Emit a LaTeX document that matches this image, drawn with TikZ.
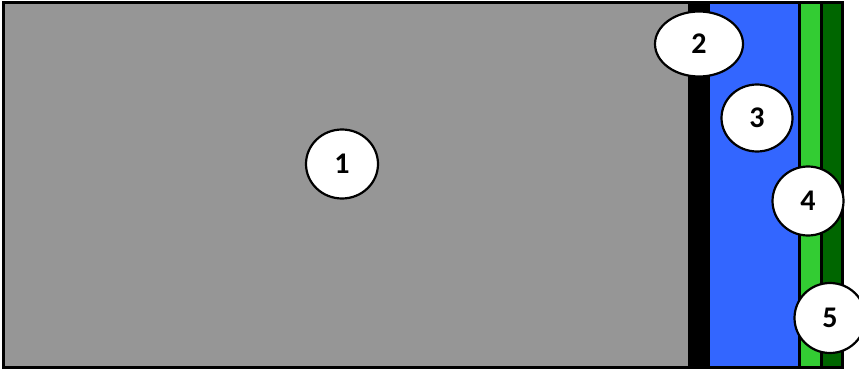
\documentclass[tikz,border=0pt]{standalone}
\usepackage{fontspec}
\setmainfont{Carlito}
\usetikzlibrary{positioning,shapes.geometric}
\definecolor{WallGray}{RGB}{150,150,150}
\definecolor{LayerBlue}{RGB}{51,102,255}
\definecolor{LightGreen}{RGB}{51,204,51}
\definecolor{DarkGreen}{RGB}{0,102,0}
\tikzset{
  frame/.style={draw=black,line width=3pt},
  lab/.style={ellipse,draw=black,fill=white,line width=2.2pt,inner sep=0pt,font=\fontsize{30}{30}\selectfont\bfseries},
}

\begin{document}
\begin{tikzpicture}[x=1pt,y=-1pt]
\useasboundingbox (0,0) rectangle (859,369);
\fill[WallGray] (3.5,2.5) rectangle (688,367);
\fill[black] (688,2.5) rectangle (710,367);
\fill[LayerBlue] (710,2.5) rectangle (799.5,367);
\fill[LightGreen] (799.5,2.5) rectangle (821.5,367);
\fill[DarkGreen] (821.5,2.5) rectangle (842,367);
\draw[frame] (799.5,2.5)--(799.5,367);
\draw[frame] (821.5,2.5)--(821.5,367);
\draw[frame] (3.5,2.5) rectangle (842,367);
\coordinate (c1) at (342,164);
\coordinate (c2) at (699,44);
\coordinate (c3) at (757,118);
\coordinate (c4) at (808,201);
\coordinate (c5) at (830,318);
\node[lab,minimum width=72pt,minimum height=69pt] (n1) at (c1) {1};
\node[lab,minimum width=88pt,minimum height=65pt] (n2) at (c2) {2};
\node[lab,minimum width=71pt,minimum height=67pt] (n3) at (c3) {3};
\node[lab,minimum width=71pt,minimum height=69pt] (n4) at (c4) {4};
\node[lab,minimum width=71pt,minimum height=70pt] (n5) at (c5) {5};
\end{tikzpicture}
\end{document}
